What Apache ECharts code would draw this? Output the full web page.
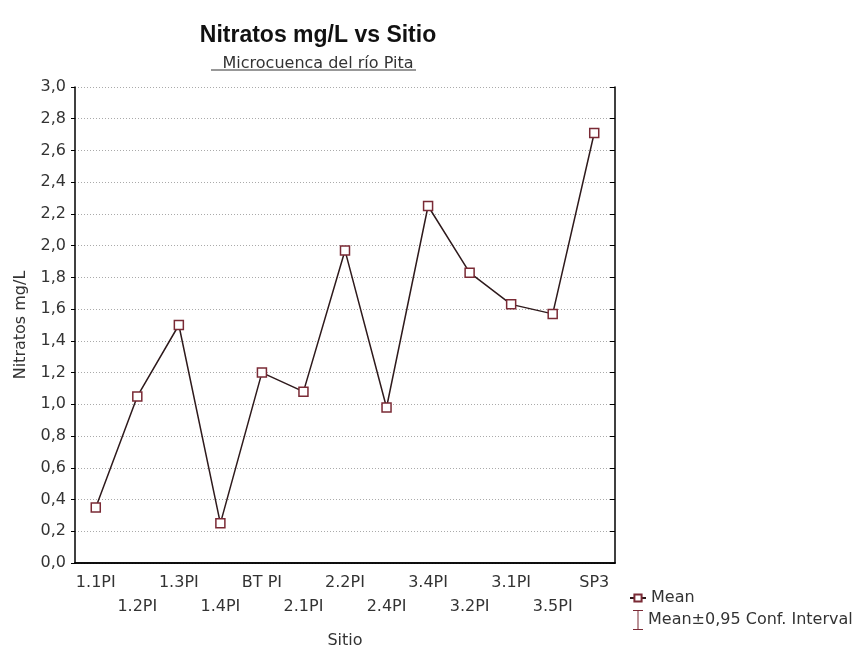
<!DOCTYPE html>
<html><head><meta charset="utf-8">
<script src="https://cdn.jsdelivr.net/npm/echarts@6/dist/echarts.min.js"></script>
<style>html,body{margin:0;padding:0;background:#fff}#c{width:864px;height:648px}</style>
</head><body><div id="c"></div>
<script>
const categories = ['1.1PI','1.2PI','1.3PI','1.4PI','BT PI','2.1PI','2.2PI','2.4PI','3.4PI','3.2PI','3.1PI','3.5PI','SP3'];
const meanValues = [0.35, 1.05, 1.50, 0.25, 1.20, 1.08, 1.97, 0.98, 2.25, 1.83, 1.63, 1.57, 2.71];
const yMin = 0, yMax = 3.0, yStep = 0.2;
const titleText = 'Nitratos mg/L vs Sitio';
const subtitleText = 'Microcuenca del río Pita';
const xName = 'Sitio', yName = 'Nitratos mg/L';
const seriesNames = ['Mean', 'Mean±0,95 Conf. Interval'];

const FONT = '"DejaVu Sans", Verdana, sans-serif';
const chart = echarts.init(document.getElementById('c'), null, {renderer:'canvas'});
const fmt = v => v.toFixed(1).replace('.', ',');
const axisLineStyle = {color:'#000', width:1.5};
chart.setOption({
  backgroundColor:'#fff',
  animation:false,
  title:[
    {text:titleText, left:313, top:19, textAlign:'center',
     textStyle:{fontFamily:'"Liberation Sans", Arial, sans-serif', fontSize:23, fontWeight:'bold', color:'#111'}},
    {text:subtitleText, left:313, top:51, textAlign:'center',
     textStyle:{fontFamily:FONT, fontSize:16, fontWeight:'normal', color:'#333'}}
  ],
  graphic:[{type:'line', shape:{x1:211, y1:70, x2:416, y2:70}, style:{stroke:'#333', lineWidth:1.2}}],
  grid:{left:75, right:249, top:87, bottom:85, containLabel:false, outerBoundsMode:'none'},
  legend:[
    {orient:'vertical', left:624, top:585, itemWidth:16, itemHeight:9,
     textStyle:{fontFamily:FONT, fontSize:16, color:'#333'},
     data:[{name:seriesNames[0]}]},
    {orient:'vertical', left:628, top:605, itemWidth:10, itemHeight:20, itemGap:4,
     textStyle:{fontFamily:FONT, fontSize:16, color:'#333'},
     data:[{name:seriesNames[1], icon:'path://M0,0 L10,0 L10,1 L5.5,1 L5.5,19 L10,19 L10,20 L0,20 L0,19 L4.5,19 L4.5,1 L0,1 Z',
       itemStyle:{color:'#7a2a35'}}]}
  ],
  xAxis:[
    {type:'category', data:categories, position:'bottom', boundaryGap:true,
     name:xName, nameLocation:'middle', nameGap:70,
     nameTextStyle:{fontFamily:FONT, fontSize:16, color:'#333'},
     axisLine:{lineStyle:axisLineStyle},
     axisTick:{inside:true, length:5, alignWithLabel:true, lineStyle:{color:'#000'}},
     axisLabel:{interval:0, fontFamily:FONT, fontSize:16, color:'#333', margin:8, lineHeight:24,
       formatter:(v,i)=> (i%2===1 ? '\n'+v : v)},
     splitLine:{show:false}},
    {type:'category', data:categories, position:'top', boundaryGap:true,
     axisLine:{lineStyle:axisLineStyle},
     axisTick:{inside:true, length:5, alignWithLabel:true, lineStyle:{color:'#000'}},
     axisLabel:{show:false}, splitLine:{show:false}}
  ],
  yAxis:[
    {type:'value', min:yMin, max:yMax, interval:yStep, position:'left',
     name:yName, nameLocation:'middle', nameGap:46, nameRotate:90,
     nameTextStyle:{fontFamily:FONT, fontSize:16, color:'#333'},
     axisLine:{show:true, lineStyle:axisLineStyle},
     axisTick:{show:true, inside:false, length:4, lineStyle:{color:'#000'}},
     axisLabel:{fontFamily:FONT, fontSize:16, color:'#333', margin:9, formatter:fmt},
     splitLine:{show:true, lineStyle:{color:'#aaa', type:[1,2], width:1}}},
    {type:'value', min:yMin, max:yMax, interval:yStep, position:'right',
     axisLine:{show:true, lineStyle:axisLineStyle},
     axisTick:{show:true, inside:true, length:5, lineStyle:{color:'#000'}},
     axisLabel:{show:false}, splitLine:{show:false}}
  ],
  series:[
    {name:seriesNames[0], type:'line', data:meanValues, xAxisIndex:0, yAxisIndex:0,
     symbol:'rect', symbolSize:9, showAllSymbol:true, z:3,
     lineStyle:{color:'#2e1a1c', width:1.5},
     itemStyle:{color:'#fff', borderColor:'#7a2a35', borderWidth:1.5}},
    {name:seriesNames[1], type:'line', data:[], xAxisIndex:0, yAxisIndex:0,
     itemStyle:{color:'#7a2a35'}, lineStyle:{color:'#7a2a35'}}
  ]
});
</script></body></html>
